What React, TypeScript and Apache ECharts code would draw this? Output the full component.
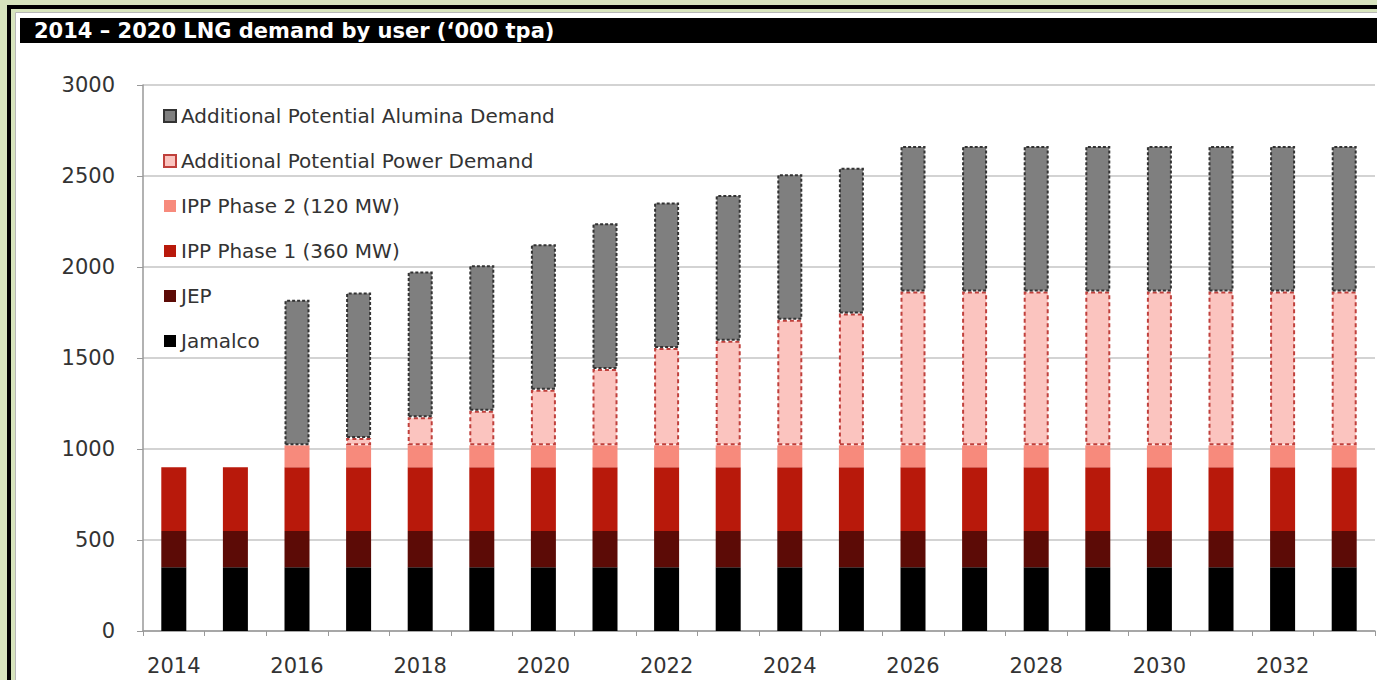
import React, { useEffect, useRef } from "react";
import * as echarts from "echarts";

const years = ["2014","2015","2016","2017","2018","2019","2020","2021","2022","2023","2024","2025","2026","2027","2028","2029","2030","2031","2032","2033"];
const jamalco = [350,350,350,350,350,350,350,350,350,350,350,350,350,350,350,350,350,350,350,350];
const jep = [200,200,200,200,200,200,200,200,200,200,200,200,200,200,200,200,200,200,200,200];
const ipp1 = [350,350,350,350,350,350,350,350,350,350,350,350,350,350,350,350,350,350,350,350];
const ipp2 = [null,null,120,120,120,120,120,120,120,120,120,120,120,120,120,120,120,120,120,120];
const power = [null,null,null,40,155,190,305,420,535,575,690,725,845,845,845,845,845,845,845,845];
const alumina = [null,null,800,800,800,800,800,800,800,800,800,800,800,800,800,800,800,800,800,800];
const yTicks = { min: 0, max: 3000, interval: 500 };
const titleText = "2014 \u2013 2020 LNG demand by user (\u2018000 tpa)";
const names = {
  alumina: "Additional Potential Alumina Demand",
  power: "Additional Potential Power Demand",
  ipp2: "IPP Phase 2 (120 MW)",
  ipp1: "IPP Phase 1 (360 MW)",
  jep: "JEP",
  jamalco: "Jamalco",
};

const FONT = "DejaVu Sans";

export default function App() {
  const ref = useRef<HTMLDivElement>(null);
  useEffect(() => {
    document.body.style.margin = "0";
    const chart = echarts.init(ref.current!, null, { renderer: "svg" });
    const bar = (name: string, data: any[], itemStyle: any) => ({
      name,
      type: "bar",
      stack: "total",
      barWidth: 25,
      data,
      itemStyle,
      emphasis: { disabled: true },
    });
    chart.setOption({
      animation: false,
      backgroundColor: "#d7e4bd",
      textStyle: { fontFamily: FONT },
      graphic: [
        { type: "rect", z: -10, shape: { x: 9, y: 7, width: 1420, height: 720 }, style: { fill: "none", stroke: "#000", lineWidth: 4 } },
        { type: "rect", z: -9, shape: { x: 15.5, y: 12.5, width: 1420, height: 720 }, style: { fill: "#fff", stroke: "#b8b8b8", lineWidth: 1 } },
        { type: "rect", z: -8, shape: { x: 20, y: 18, width: 1420, height: 25 }, style: { fill: "#000" } },
        { type: "text", z: 10, x: 34, y: 31, style: { text: titleText, fill: "#fff", font: `bold 21px "${FONT}"`, textVerticalAlign: "middle" } },
      ],
      grid: { left: 143, right: 2, top: 85, bottom: 49, containLabel: false },
      legend: {
        orient: "vertical",
        left: 158,
        top: 101,
        icon: "rect",
        itemWidth: 12,
        itemHeight: 12,
        itemGap: 25,
        data: [names.alumina, names.power, names.ipp2, names.ipp1, names.jep, names.jamalco],
        textStyle: { fontSize: 20, color: "#333", fontFamily: FONT },
      },
      xAxis: {
        type: "category",
        data: years,
        axisLine: { lineStyle: { color: "#999", width: 1.5 } },
        axisTick: { show: true, alignWithLabel: false, interval: 0, length: 5, lineStyle: { color: "#999" } },
        axisLabel: { interval: 1, fontSize: 21, color: "#333", margin: 24, fontFamily: FONT },
      },
      yAxis: {
        type: "value",
        ...yTicks,
        axisLine: { show: true, lineStyle: { color: "#999", width: 1.5 } },
        axisTick: { show: true, length: 6, lineStyle: { color: "#999" } },
        splitLine: { lineStyle: { color: "#c4c4c4", width: 1.5 } },
        axisLabel: { fontSize: 21, color: "#333", margin: 28, fontFamily: FONT, formatter: (v: number) => String(v) },
      },
      series: [
        bar(names.jamalco, jamalco, { color: "#000000" }),
        bar(names.jep, jep, { color: "#5c0b06" }),
        bar(names.ipp1, ipp1, { color: "#b8190b" }),
        bar(names.ipp2, ipp2, { color: "#f78a7c" }),
        bar(names.power, power, { color: "#fbc4bf", borderColor: "#c0403c", borderWidth: 2, borderType: [4, 3] }),
        bar(names.alumina, alumina, { color: "#7f7f7f", borderColor: "#333", borderWidth: 2, borderType: [3, 2] }),
      ],
    });
    return () => chart.dispose();
  }, []);
  return <div ref={ref} style={{ width: 1377, height: 680 }} />;
}
